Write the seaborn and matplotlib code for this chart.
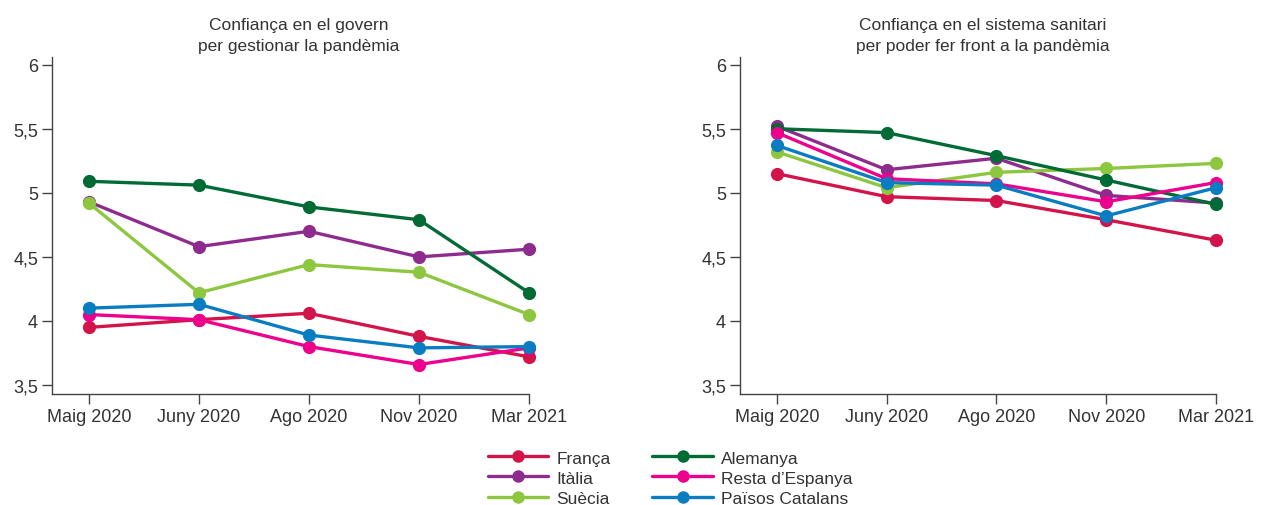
import matplotlib
matplotlib.use("Agg")
import matplotlib.pyplot as plt
import seaborn as sns
import pandas as pd

months = ["Maig 2020", "Juny 2020", "Ago 2020", "Nov 2020", "Mar 2021"]
countries = ["França", "Itàlia", "Suècia", "Alemanya", "Resta d\u2019Espanya", "Països Catalans"]

# Confiança en el govern
gov_franca = [3.95, 4.01, 4.06, 3.88, 3.72]
gov_italia = [4.93, 4.58, 4.70, 4.50, 4.56]
gov_suecia = [4.92, 4.22, 4.44, 4.38, 4.05]
gov_alemanya = [5.09, 5.06, 4.89, 4.79, 4.22]
gov_resta = [4.05, 4.01, 3.80, 3.66, 3.79]
gov_catalans = [4.10, 4.13, 3.89, 3.79, 3.80]

# Confiança en el sistema sanitari
san_franca = [5.15, 4.97, 4.94, 4.79, 4.63]
san_italia = [5.52, 5.18, 5.27, 4.98, 4.92]
san_suecia = [5.32, 5.04, 5.16, 5.19, 5.23]
san_alemanya = [5.50, 5.47, 5.29, 5.10, 4.91]
san_resta = [5.47, 5.11, 5.07, 4.93, 5.08]
san_catalans = [5.37, 5.08, 5.06, 4.82, 5.04]

colors = ["#D2144A", "#8E2C8E", "#8DC63F", "#006B35", "#EC008C", "#0A7CC1"]

ytick_vals = [3.5, 4, 4.5, 5, 5.5, 6]
ytick_labels = ["3,5", "4", "4,5", "5", "5,5", "6"]

titles = ["Confiança en el govern\nper gestionar la pandèmia",
          "Confiança en el sistema sanitari\nper poder fer front a la pandèmia"]


def long_df(series):
    rows = []
    for c, vals in zip(countries, series):
        for i, (m, v) in enumerate(zip(months, vals)):
            rows.append({"pais": c, "x": i, "mes": m, "valor": v})
    return pd.DataFrame(rows)


df_gov = long_df([gov_franca, gov_italia, gov_suecia, gov_alemanya, gov_resta, gov_catalans])
df_san = long_df([san_franca, san_italia, san_suecia, san_alemanya, san_resta, san_catalans])

sns.set_theme(style="ticks")
plt.rcParams["font.family"] = ["Liberation Sans", "DejaVu Sans"]
txt = "#333333"

fig = plt.figure(figsize=(12.61, 5.06), dpi=100)
ax1 = fig.add_axes([52 / 1261, 1 - 395 / 506, 477 / 1261, (395 - 58) / 506])
ax2 = fig.add_axes([740 / 1261, 1 - 395 / 506, 476 / 1261, (395 - 58) / 506])

pal = dict(zip(countries, colors))
for ax, df, title, cx in [(ax1, df_gov, titles[0], 299), (ax2, df_san, titles[1], 983)]:
    sns.lineplot(data=df, x="x", y="valor", hue="pais", hue_order=countries,
                 palette=pal, marker="o", markersize=9.5, markeredgewidth=0,
                 linewidth=2.4, ax=ax, legend=False, sort=False)
    for l in ax.lines:
        l.set_clip_on(False)
    ax.set_xlim(-0.335, 4)
    ax.set_ylim(3.43, 6.06)
    ax.set_xticks(range(len(months)))
    ax.set_xticklabels(months, fontsize=13, color=txt)
    ax.set_yticks(ytick_vals)
    ax.set_yticklabels(ytick_labels, fontsize=13, color=txt)
    ax.set_xlabel("")
    ax.set_ylabel("")
    for s in ["top", "right"]:
        ax.spines[s].set_visible(False)
    for s in ["left", "bottom"]:
        ax.spines[s].set_color("#444444")
        ax.spines[s].set_linewidth(1.0)
    ax.tick_params(axis="both", length=7, width=1.0, color="#444444", pad=3)
    fig.text(cx / 1261, 1 - 36 / 506, title, ha="center", va="center",
             fontsize=12.5, color=txt, linespacing=1.55)

handles = [plt.Line2D([], [], color=c, marker="o", markersize=9, markeredgewidth=0,
                      linewidth=2.4) for c in colors]
fig.legend(handles, countries, loc="center", bbox_to_anchor=(670 / 1261, 1 - 479 / 506),
           ncol=2, frameon=False, fontsize=12.5, handlelength=3.5,
           labelspacing=0.28, columnspacing=2.4, handletextpad=0.45,
           labelcolor=txt, borderpad=0.2)

fig.savefig("out.png", dpi=100)
